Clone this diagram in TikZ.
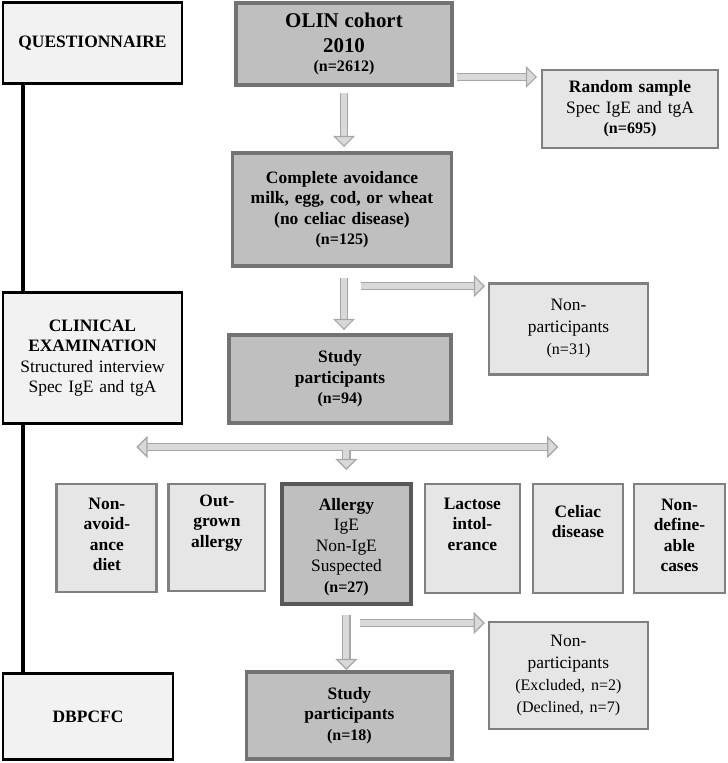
\documentclass[tikz,border=0pt]{standalone}
\usepackage{fontspec}
\setmainfont{Liberation Serif}
\usetikzlibrary{arrows.meta,positioning,calc}
\definecolor{FondoEtapa}{HTML}{F2F2F2}
\definecolor{GrisOscuro}{HTML}{BFBFBF}
\definecolor{BordeOscuro}{HTML}{737373}
\definecolor{BordeAlergia}{HTML}{595959}
\definecolor{GrisClaro}{HTML}{E6E6E6}
\definecolor{BordeClaro}{HTML}{808080}
\definecolor{RellenoFlecha}{HTML}{D9D9D9}
\definecolor{BordeFlecha}{HTML}{A6A6A6}
\newcommand{\letranormal}{\fontsize{12.4}{14.6}\selectfont}
\newcommand{\letraamplia}{\fontsize{12.4}{15.6}\selectfont}
\newcommand{\letran}{\fontsize{11.4}{13.5}\selectfont}
\newcommand{\letragrande}{\fontsize{14.9}{17.1}\selectfont}

\begin{document}
\begin{tikzpicture}[x=0.25mm,y=-0.25mm,
    etapa/.style={draw=black,fill=FondoEtapa,line width=0.6mm,inner sep=0pt,outer sep=0pt,align=center,font=\letranormal},
    oscura/.style={draw=BordeOscuro,fill=GrisOscuro,line width=0.8mm,inner sep=0pt,outer sep=0pt,align=center,font=\letranormal\bfseries},
    clara/.style={draw=BordeClaro,fill=GrisClaro,line width=0.7mm,inner sep=0pt,outer sep=0pt,align=center,font=\letranormal},
    menor/.style={clara,font=\letranormal\bfseries},
    alergia/.style={clara,draw=BordeAlergia,fill=GrisOscuro,line width=0.9mm},
    linea/.style={line width=1mm,draw=black},
    flechagris/.style={draw=RellenoFlecha,line width=1.5mm,
      >={Triangle[length=2.8mm,width=5.5mm,line width=0.3mm,color=BordeFlecha,fill=RellenoFlecha]},->,
      preaction={draw=BordeFlecha,line width=2.1mm,-,shorten >=2.6mm,shorten <=#1}},
    flechagris/.default=0mm]
    \useasboundingbox (0,0) rectangle (728,763);
    % etapas a la izquierda
    \node[etapa,text width=44.75mm,minimum height=20.25mm] (quest) at (92.5,43) {\bfseries QUESTIONNAIRE};
    \node[etapa,text width=44.75mm,minimum height=32.75mm,below=52.25mm of quest] (clin) {\textbf{CLINICAL}\\\textbf{EXAMINATION}\\Structured interview\\Spec IgE and tgA};
    \node[etapa,text width=42.5mm,minimum height=21.5mm,below=62.5mm of clin.south west,anchor=north west] (dbpcfc) {\bfseries DBPCFC};
    % flujo central
    \node[oscura,text width=54mm,minimum height=20.5mm] (olin) at (344,44) {{\letragrande OLIN cohort\\[3pt]2010}\\[-1pt]{\letran (n=2612)}};
    \node[oscura,text width=54.75mm,minimum height=28.25mm,below=17mm of olin,xshift=-0.5mm] (avoid) {Complete avoidance\\milk, egg, cod, or wheat\\(no celiac disease)\\{\letran (n=125)}};
    \node[oscura,text width=55.5mm,minimum height=22mm,below=17.25mm of avoid,xshift=-0.5mm] (study1) {Study\\participants\\{\letran (n=94)}};
    \node[clara,text width=44mm,minimum height=19.5mm,right=22.5mm of olin,yshift=-16.25mm] (random) {\textbf{Random sample}\\Spec IgE and tgA\\{\letran\bfseries (n=695)}};
    \node[clara,font=\letraamplia,text width=39.75mm,minimum height=22.75mm,right=9.5mm of study1,yshift=12.6mm] (nonpart1) {Non-\\participants\\{\letran (n=31)}};
    % fila de diagnosticos
    \node[alergia,text width=32.25mm,text height=6.5mm,text depth=23.5mm,below=15.25mm of study1,xshift=1.6mm] (allergy) {\textbf{Allergy}\\IgE\\Non-IgE\\Suspected\\{\letran\bfseries (n=27)}};
    \node[menor,text width=24mm,text height=5.5mm,text depth=21.25mm,left=4.25mm of allergy.north west,anchor=north east] (outgrown) {Out-\\grown\\allergy};
    \node[menor,text width=25mm,text height=6.25mm,text depth=20.75mm,left=3mm of outgrown.north west,anchor=north east] (nonavoid) {Non-\\avoid-\\ance\\diet};
    \node[menor,text width=23.75mm,text height=6.25mm,text depth=21mm,right=3.5mm of allergy.north east,anchor=north west] (lactose) {Lactose\\intol-\\erance};
    \node[menor,text width=22.5mm,text height=8.25mm,text depth=19mm,right=3.25mm of lactose.north east,anchor=north west] (celiac) {Celiac\\disease};
    \node[menor,text width=22.75mm,text height=6.5mm,text depth=20.75mm,right=2.75mm of celiac.north east,anchor=north west] (nondef) {Non-\\define-\\able\\cases};
    \node[oscura,text width=51.25mm,minimum height=21.75mm,below=17mm of allergy,xshift=0.75mm] (study2) {Study\\participants\\{\letran (n=18)}};
    \node[clara,font=\letraamplia,text width=39.75mm,minimum height=26.75mm,right=9.25mm of study2.north east,anchor=north west,yshift=12.5mm] (nonpart2) {Non-\\participants\\{\letran (Excluded, n=2)}\\{\letran (Declined, n=7)}};
    % linea de etapas
    \draw[linea] ([xshift=4.9mm]quest.south west) -- ([xshift=4.9mm]clin.north west);
    \draw[linea] ([xshift=4.9mm]clin.south west) -- ([xshift=4.9mm]dbpcfc.north west);
    % flechas
    \coordinate (rama1) at ($(olin.south |- nonpart1.north)+(17,3)$);
    \coordinate (cruce) at ($(allergy.north)+(0,-37)$);
    \coordinate (izq) at ($(cruce)+(-210,0)$);
    \coordinate (der) at ($(cruce)+(212,0)$);
    \coordinate (rama2) at ($(allergy.south |- nonpart2.north)+(14,1)$);
    \draw[flechagris] ($(olin.south)+(0,8)$) -- ($(olin.south |- avoid.north)+(0,-6)$);
    \draw[flechagris] ($(olin.east |- random.north)+(5,7)$) -- ($(random.north west)+(-5,7)$);
    \draw[flechagris] ($(avoid.south -| olin.south)+(0,12)$) -- ($(study1.north -| olin.south)+(0,-5)$);
    \draw[flechagris] (rama1) -- ($(rama1 -| nonpart1.west)+(-4,0)$);
    \draw[flechagris=2.6mm,<->] (izq) -- (der);
    \draw[flechagris] ($(cruce)+(0,3)$) -- ($(allergy.north)+(0,-14)$);
    \draw[flechagris] ($(allergy.south)+(0,11)$) -- ($(allergy.south |- study2.north)+(0,-2)$);
    \draw[flechagris] (rama2) -- ($(rama2 -| nonpart2.west)+(-4,0)$);
\end{tikzpicture}
\end{document}
